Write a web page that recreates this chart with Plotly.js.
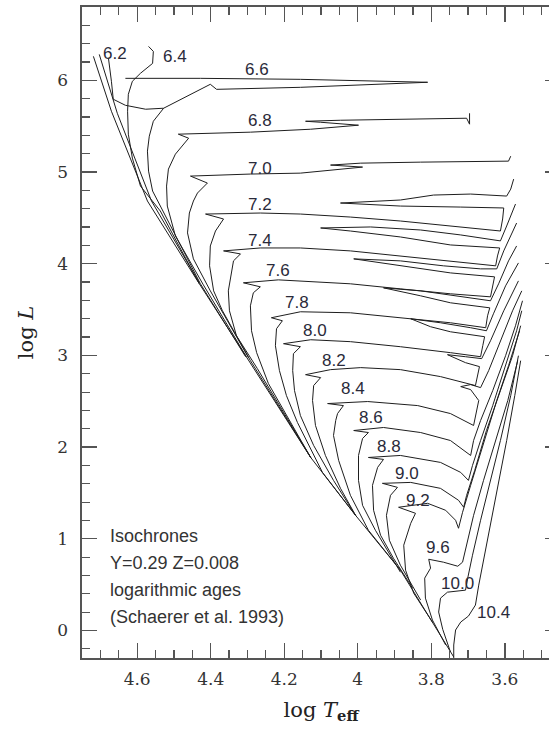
<!DOCTYPE html>
<html>
<head>
<meta charset="utf-8">
<script src="https://cdn.plot.ly/plotly-3.0.1.min.js"></script>
<style>
html,body{margin:0;padding:0;overflow:hidden;background:#fff;}
#chart{width:575px;height:733px;}
</style>
</head>
<body>
<div id="chart"></div>
<script>
// Common lower main sequence (ZAMS)
var zamsT = [3.739, 3.813, 3.884, 4.006, 4.128, 4.305, 4.436];
var zamsL = [-0.289, 0.201, 0.658, 1.256, 1.887, 2.997, 3.813];

// Isochrones: log Teff / log L (null = break)
var t62 = [4.436, 4.572, 4.670, 4.719, null, 4.431, 4.561, 4.654, 4.703];
var l62 = [3.813, 4.684, 5.663, 6.262, null, 3.792, 4.684, 5.641, 6.283];

var t64 = [4.431, 4.537, 4.591, 4.613, 4.624, 4.626, 4.624, 4.613, 4.591, 4.558, 4.556, 4.569];
var l64 = [3.781, 4.575, 4.847, 5.152, 5.413, 5.663, 5.848, 5.990, 6.077, 6.185, 6.316, 6.370];

var t66 = [4.305, 4.428, 4.523, 4.558, 4.569, 4.572, 4.567, 4.556, 4.528, 4.490, 4.441, 4.401, 4.384, 4.156, 3.810, 4.156, 4.428, 4.632,
           null, 4.528, 4.577, 4.632, 4.665, 4.670, 4.678];
var l66 = [2.986, 3.781, 4.521, 4.793, 5.010, 5.228, 5.391, 5.554, 5.696, 5.772, 5.870, 5.957, 5.902, 5.924, 5.979, 6.011, 6.022, 6.022,
           null, 5.696, 5.685, 5.728, 5.794, 5.990, 6.240];

var t68 = [4.303, 4.420, 4.496, 4.518, 4.520, 4.515, 4.496, 4.460, 4.488, 4.292, 4.128, 3.998, 4.101, 4.142, 4.047, 3.829, 3.704, 3.696, 3.696];
var l68 = [2.986, 3.770, 4.303, 4.629, 4.847, 5.032, 5.195, 5.369, 5.413, 5.435, 5.467, 5.511, 5.543, 5.554, 5.565, 5.576, 5.587, 5.522, 5.641];

var t70 = [4.297, 4.401, 4.447, 4.463, 4.458, 4.447, 4.436, 4.409, 4.455, 4.292, 4.156, 4.033, 3.987, 4.074, 3.992, 3.829, 3.590, 3.584];
var l70 = [2.975, 3.704, 4.053, 4.336, 4.553, 4.684, 4.771, 4.880, 4.956, 4.978, 4.988, 5.032, 5.054, 5.076, 5.097, 5.108, 5.119, 5.173];

var t72 = [4.128, 4.292, 4.368, 4.392, 4.403, 4.401, 4.387, 4.365, 4.414, 4.265, 4.156, 4.020, 3.884, 3.748, 3.612, 3.606, 3.603,
           3.720, 3.884, 4.047, 3.884, 3.794, 3.693, 3.595, 3.584, 3.576];
var l72 = [1.887, 2.943, 3.487, 3.704, 3.977, 4.194, 4.357, 4.488, 4.542, 4.553, 4.542, 4.509, 4.466, 4.412, 4.357, 4.488, 4.608,
           4.618, 4.629, 4.662, 4.695, 4.749, 4.760, 4.738, 4.814, 4.923];

var t74 = [4.128, 4.273, 4.330, 4.349, 4.352, 4.343, 4.338, 4.319, 4.365, 4.265, 4.156, 4.020, 3.884, 3.748, 3.625, 3.620, 3.614,
           3.748, 3.884, 4.020, 4.101, 3.965, 3.829, 3.720, 3.612, 3.595, 3.579, 3.571];
var l74 = [1.887, 2.856, 3.215, 3.487, 3.704, 3.922, 4.031, 4.107, 4.140, 4.172, 4.172, 4.140, 4.085, 4.031, 3.977, 4.085, 4.172,
           4.205, 4.292, 4.357, 4.390, 4.401, 4.368, 4.314, 4.249, 4.412, 4.575, 4.651];

var t76 = [4.128, 4.186, 4.243, 4.275, 4.289, 4.292, 4.284, 4.265, 4.311, 4.216, 4.156, 4.020, 3.884, 3.748, 3.639, 3.633, 3.628,
           3.748, 3.884, 4.011, 3.884, 3.767, 3.666, 3.622, 3.603, 3.584, 3.568];
var l76 = [1.887, 2.290, 2.693, 3.030, 3.269, 3.541, 3.683, 3.748, 3.792, 3.824, 3.813, 3.781, 3.726, 3.672, 3.639, 3.759, 3.857,
           3.900, 3.977, 4.053, 4.031, 3.977, 3.944, 3.944, 4.140, 4.303, 4.444];

var t78 = [4.006, 4.096, 4.164, 4.194, 4.213, 4.224, 4.221, 4.205, 4.235, 4.156, 4.020, 3.884, 3.748, 3.652, 3.647, 3.641,
           3.748, 3.829, 3.930, 3.829, 3.720, 3.639, 3.617, 3.590, 3.568];
var l78 = [1.256, 1.724, 2.268, 2.562, 2.834, 3.106, 3.291, 3.378, 3.411, 3.476, 3.465, 3.411, 3.356, 3.302, 3.432, 3.519,
           3.574, 3.650, 3.737, 3.704, 3.639, 3.596, 3.781, 4.031, 4.194];

var t80 = [4.006, 4.066, 4.120, 4.156, 4.172, 4.177, 4.175, 4.156, 4.202, 4.128, 4.020, 3.884, 3.748, 3.666, 3.660, 3.655,
           3.748, 3.802, 3.856, 3.775, 3.693, 3.650, 3.631, 3.598, 3.563];
var l80 = [1.256, 1.637, 2.018, 2.344, 2.616, 2.834, 3.019, 3.095, 3.128, 3.171, 3.150, 3.095, 3.030, 2.986, 3.106, 3.204,
           3.258, 3.313, 3.400, 3.356, 3.302, 3.269, 3.454, 3.759, 4.009];

var t82 = [4.006, 4.047, 4.088, 4.115, 4.123, 4.120, 4.101, 4.142, 4.074, 3.992, 3.884, 3.775, 3.680, 3.674, 3.669,
           3.707, 3.756, 3.707, 3.663, 3.639, 3.603, 3.563];
var l82 = [1.256, 1.550, 1.909, 2.236, 2.508, 2.671, 2.758, 2.790, 2.845, 2.867, 2.845, 2.769, 2.671, 2.780, 2.878,
           2.921, 3.008, 2.986, 2.965, 3.160, 3.487, 3.813];

var t84 = [3.884, 3.971, 4.020, 4.052, 4.066, 4.060, 4.055, 4.039, 4.082, 3.973, 3.837, 3.748, 3.685, 3.677, 3.671,
           3.693, 3.720, 3.693, 3.666, 3.644, 3.612, 3.579, 3.554];
var l84 = [0.658, 1.093, 1.474, 1.855, 2.127, 2.290, 2.366, 2.453, 2.475, 2.497, 2.453, 2.366, 2.236, 2.377, 2.508,
           2.627, 2.660, 2.682, 2.649, 2.834, 3.160, 3.487, 3.704];

var t86 = [3.884, 3.952, 3.987, 3.998, 3.998, 3.987, 3.971, 4.011, 3.930, 3.829, 3.748, 3.693, 3.685, 3.666, 3.633, 3.598, 3.571, 3.552];
var l86 = [0.636, 1.093, 1.365, 1.637, 1.909, 2.094, 2.159, 2.181, 2.214, 2.159, 2.072, 1.909, 2.072, 2.290, 2.616, 2.997, 3.324, 3.596];

var t88 = [3.851, 3.903, 3.938, 3.957, 3.960, 3.946, 3.930, 3.971, 3.884, 3.775, 3.720, 3.699, 3.688, 3.666, 3.633, 3.598, 3.568, 3.554];
var l88 = [0.462, 0.788, 1.039, 1.311, 1.583, 1.779, 1.866, 1.887, 1.909, 1.833, 1.724, 1.637, 1.800, 2.072, 2.453, 2.888, 3.269, 3.487];

var t90 = [3.829, 3.884, 3.914, 3.922, 3.911, 3.892, 3.933, 3.856, 3.775, 3.726, 3.712, 3.704, 3.682, 3.650, 3.612, 3.579, 3.557];
var l90 = [0.332, 0.712, 0.984, 1.256, 1.474, 1.561, 1.605, 1.615, 1.550, 1.420, 1.344, 1.474, 1.746, 2.181, 2.616, 2.997, 3.324];

var t92 = [3.797, 3.848, 3.870, 3.875, 3.856, 3.843, 3.889, 3.810, 3.761, 3.734, 3.726, 3.715, 3.693, 3.660, 3.622, 3.590, 3.560];
var l92 = [0.092, 0.408, 0.658, 0.930, 1.169, 1.278, 1.344, 1.387, 1.311, 1.202, 1.115, 1.289, 1.583, 2.018, 2.508, 2.888, 3.269];

var t96 = [3.761, 3.797, 3.816, 3.818, 3.802, 3.807, 3.767, 3.728, 3.715, 3.704, 3.685, 3.658, 3.625, 3.592, 3.565];
var l96 = [-0.158, 0.114, 0.353, 0.571, 0.680, 0.777, 0.745, 0.701, 0.745, 0.930, 1.256, 1.637, 2.072, 2.508, 2.943];

var t100 = [3.748, 3.769, 3.780, 3.775, 3.756, 3.707, 3.701, 3.688, 3.666, 3.639, 3.612, 3.584, 3.563];
var l100 = [-0.234, 0.013, 0.201, 0.353, 0.418, 0.440, 0.571, 0.821, 1.202, 1.637, 2.072, 2.562, 2.997];

var t104 = [3.739, 3.739, 3.734, 3.720, 3.699, 3.680, 3.671, 3.658, 3.639, 3.617, 3.595, 3.573, 3.557];
var l104 = [-0.300, -0.158, 0.005, 0.092, 0.157, 0.277, 0.495, 0.767, 1.147, 1.583, 2.072, 2.562, 2.943];

// Age labels and their positions
var ageLabels = ['6.2','6.4','6.6','6.8','7.0','7.2','7.4','7.6','7.8','8.0','8.2','8.4','8.6','8.8','9.0','9.2','9.6','10.0','10.4'];
var labelT = [4.659, 4.496, 4.273, 4.265, 4.265, 4.265, 4.265, 4.216, 4.164, 4.115, 4.066, 4.014, 3.965, 3.916, 3.865, 3.835, 3.783, 3.729, 3.631];
var labelL = [6.294, 6.262, 6.120, 5.565, 5.043, 4.651, 4.249, 3.922, 3.574, 3.269, 2.943, 2.638, 2.322, 2.007, 1.713, 1.420, 0.908, 0.516, 0.201];

// Info text block
var infoLines = ['Isochrones', 'Y=0.29 Z=0.008', 'logarithmic ages', '(Schaerer et al. 1993)'];
var infoT = 4.678;
var infoL = [1.028, 0.734, 0.440, 0.147];

var curves = [
  [zamsT, zamsL], [t62, l62], [t64, l64], [t66, l66], [t68, l68], [t70, l70],
  [t72, l72], [t74, l74], [t76, l76], [t78, l78], [t80, l80], [t82, l82],
  [t84, l84], [t86, l86], [t88, l88], [t90, l90], [t92, l92], [t96, l96],
  [t100, l100], [t104, l104]
];

var traces = curves.map(function(c){
  return {x: c[0], y: c[1], type: 'scatter', mode: 'lines', connectgaps: false,
          line: {color: '#1e1e1e', width: 1}, hoverinfo: 'skip'};
});

var annotations = [];
ageLabels.forEach(function(t, i){
  annotations.push({x: labelT[i], y: labelL[i], xref: 'x', yref: 'y', text: t, showarrow: false,
    xanchor: 'center', yanchor: 'middle', font: {family: 'Liberation Sans, Arial, sans-serif', size: 17, color: '#2a2a3a'}});
});
infoLines.forEach(function(t, i){
  annotations.push({x: infoT, y: infoL[i], xref: 'x', yref: 'y', text: t, showarrow: false,
    xanchor: 'left', yanchor: 'middle', font: {family: 'Liberation Sans, Arial, sans-serif', size: 18, color: '#333'}});
});

var axisCommon = {
  ticks: 'inside', ticklen: 15, tickwidth: 1.3, tickcolor: '#555',
  showline: true, linecolor: '#555', linewidth: 1.6, mirror: 'allticks',
  showgrid: false, zeroline: false,
  tickfont: {family: 'DejaVu Serif, serif', size: 17, color: '#333'}
};

var layout = {
  width: 575, height: 733,
  margin: {l: 82, r: 15, t: 7, b: 75},
  paper_bgcolor: 'white', plot_bgcolor: 'white',
  showlegend: false,
  annotations: annotations,
  xaxis: Object.assign({}, axisCommon, {
    range: [4.75, 3.45], tick0: 4, dtick: 0.2, ticklabelstandoff: 5,
    minor: {dtick: 0.05, ticks: 'inside', ticklen: 8, tickwidth: 1.2, tickcolor: '#555', showgrid: false},
    title: {text: 'log <i>T</i><sub><b>eff</b></sub>', font: {family: 'DejaVu Serif, serif', size: 21, color: '#222'}, standoff: 14}
  }),
  yaxis: Object.assign({}, axisCommon, {
    range: [-0.3, 6.8], tick0: 0, dtick: 1, ticklabelstandoff: 9,
    minor: {dtick: 0.2, ticks: 'inside', ticklen: 8, tickwidth: 1.2, tickcolor: '#555', showgrid: false},
    title: {text: 'log <i>L</i>', font: {family: 'DejaVu Serif, serif', size: 21, color: '#222'}, standoff: 18}
  })
};

Plotly.newPlot('chart', traces, layout, {displayModeBar: false, staticPlot: true});
</script>
</body>
</html>
